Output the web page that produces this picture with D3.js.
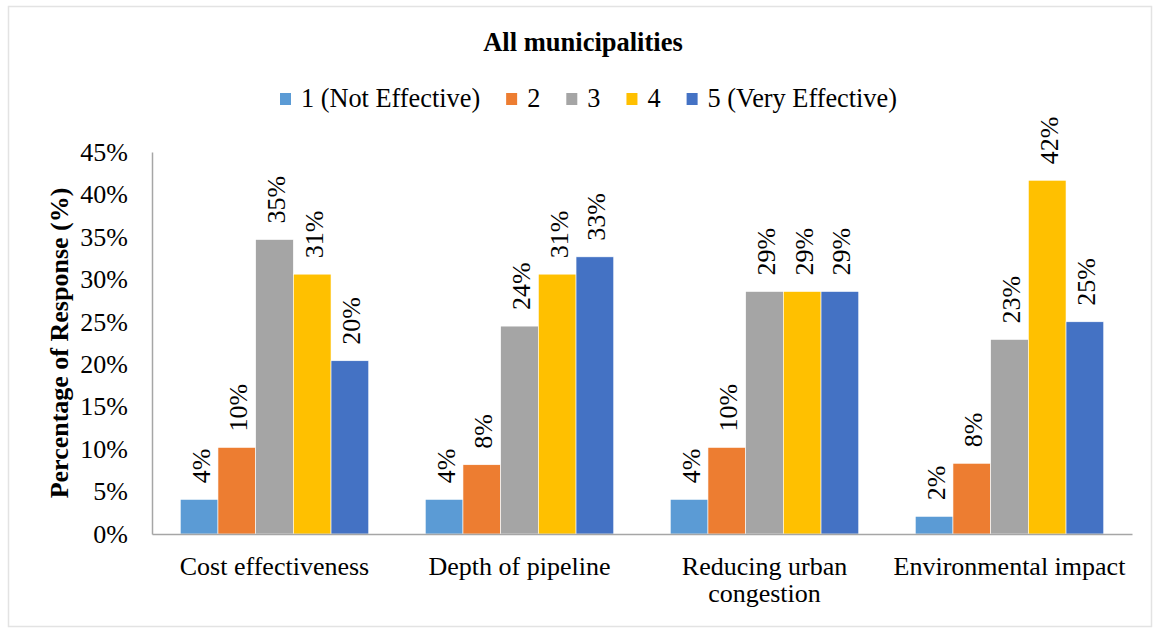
<!DOCTYPE html>
<html>
<head>
<meta charset="utf-8">
<script src="https://cdn.jsdelivr.net/npm/d3@7"></script>
<style>
  body { margin: 0; background: #fff; }
  svg { display: block; }
  svg text { font-family: "Liberation Serif", "Times New Roman", serif; }
</style>
</head>
<body>
<svg width="1155" height="628"></svg>
<script>
const categories = ["Cost effectiveness", "Depth of pipeline", "Reducing urban congestion", "Environmental impact"];
const seriesNames = ["1 (Not Effective)", "2", "3", "4", "5 (Very Effective)"];
const seriesColors = ["#5B9BD5", "#ED7D31", "#A5A5A5", "#FFC000", "#4472C4"];
// percentage of responses, per rating, in category order
const rating1 = [4.08, 4.08, 4.08, 2.08];
const rating2 = [10.20, 8.16, 10.20, 8.33];
const rating3 = [34.69, 24.49, 28.57, 22.92];
const rating4 = [30.61, 30.61, 28.57, 41.67];
const rating5 = [20.41, 32.65, 28.57, 25.00];
const yTicks = [0, 5, 10, 15, 20, 25, 30, 35, 40, 45];

const series = [rating1, rating2, rating3, rating4, rating5];

const svg = d3.select("svg"),
      width = +svg.attr("width"),
      height = +svg.attr("height");

const margin = {top: 152, right: 23, bottom: 94, left: 152};

// outer frame
svg.append("rect")
  .attr("x", 8.5).attr("y", 6.5)
  .attr("width", 1143).attr("height", 620)
  .attr("fill", "#fff")
  .attr("stroke", "#e3e3e3")
  .attr("stroke-width", 1.5);

const x0 = d3.scaleBand()
  .domain(categories)
  .range([margin.left, width - margin.right])
  .paddingInner(0.2308)
  .paddingOuter(0.1154);

const x1 = d3.scaleBand()
  .domain(d3.range(seriesNames.length))
  .range([0, x0.bandwidth()]);

const y = d3.scaleLinear()
  .domain([0, 45])
  .range([height - margin.bottom, margin.top]);

// title
svg.append("text")
  .attr("x", 583)
  .attr("y", 51)
  .attr("text-anchor", "middle")
  .attr("font-size", 26.5)
  .attr("font-weight", "bold")
  .text("All municipalities");

// legend
const legend = svg.append("g");
let lx = 280;
seriesNames.forEach((name, i) => {
  legend.append("rect")
    .attr("x", lx).attr("y", 93)
    .attr("width", 11).attr("height", 12)
    .attr("fill", seriesColors[i]);
  const t = legend.append("text")
    .attr("x", lx + 21)
    .attr("y", 107)
    .attr("font-size", 26.3)
    .text(name);
  lx += 21 + t.node().getComputedTextLength() + 26;
});

// y axis
const yAxis = svg.append("g")
  .attr("transform", `translate(${margin.left},0)`)
  .call(d3.axisLeft(y).tickValues(yTicks).tickFormat(d => d + "%").tickSize(0).tickPadding(24));
yAxis.select(".domain").attr("stroke", "#a6a6a6").attr("stroke-width", 1.5);
yAxis.selectAll("text")
  .attr("font-size", 26)
  .attr("font-family", "\"Liberation Serif\", \"Times New Roman\", serif")
  .attr("fill", "#000");

svg.append("text")
  .attr("transform", `translate(68,${(y(0) + y(45)) / 2}) rotate(-90)`)
  .attr("text-anchor", "middle")
  .attr("font-size", 26)
  .attr("font-weight", "bold")
  .text("Percentage of Response (%)");

// bars
const groups = svg.append("g").selectAll("g")
  .data(categories)
  .join("g")
  .attr("transform", d => `translate(${x0(d)},0)`);

groups.selectAll("rect")
  .data((d, ci) => series.map((s, si) => ({si, v: s[ci]})))
  .join("rect")
  .attr("x", d => x1(d.si))
  .attr("y", d => y(d.v))
  .attr("width", x1.bandwidth())
  .attr("height", d => y(0) - y(d.v))
  .attr("fill", d => seriesColors[d.si])
  .attr("stroke", "#fff")
  .attr("stroke-width", 0.6);

groups.selectAll("text")
  .data((d, ci) => series.map((s, si) => ({si, v: s[ci]})))
  .join("text")
  .attr("transform", d => `translate(${x1(d.si) + x1.bandwidth() / 2},${y(d.v) - 16}) rotate(-90)`)
  .attr("dy", "0.4em")
  .attr("font-size", 26)
  .text(d => Math.round(d.v) + "%");

// x axis
const xAxis = svg.append("g")
  .attr("transform", `translate(0,${y(0)})`)
  .call(d3.axisBottom(x0).tickSize(0).tickPadding(0));
xAxis.select(".domain").attr("stroke", "#a6a6a6").attr("stroke-width", 1.5);
xAxis.selectAll("text").remove();

// category labels, wrapped to the band width like the original
categories.forEach(c => {
  const cx = x0(c) + x0.bandwidth() / 2;
  const t = svg.append("text")
    .attr("x", cx)
    .attr("y", 575)
    .attr("text-anchor", "middle")
    .attr("font-size", 26);
  const words = c.split(" ");
  let line = [];
  let tspan = t.append("tspan").attr("x", cx).attr("dy", 0);
  words.forEach(w => {
    line.push(w);
    tspan.text(line.join(" "));
    if (tspan.node().getComputedTextLength() > x0.step() - 4 && line.length > 1) {
      line.pop();
      tspan.text(line.join(" "));
      line = [w];
      tspan = t.append("tspan").attr("x", cx).attr("dy", 27).text(w);
    }
  });
});
</script>
</body>
</html>
